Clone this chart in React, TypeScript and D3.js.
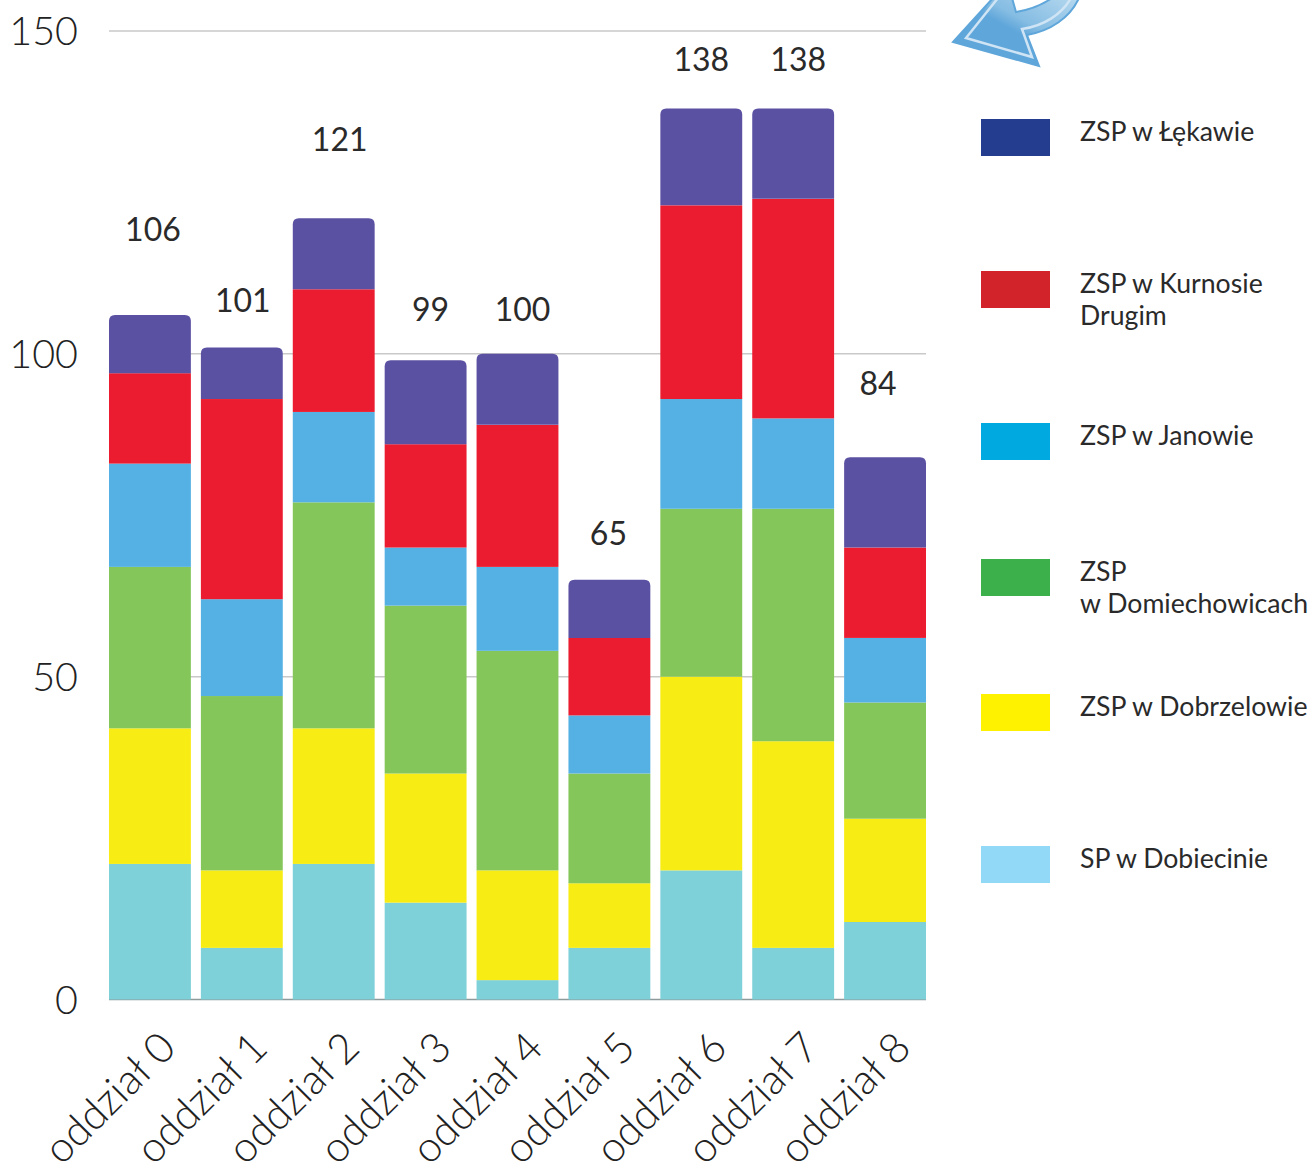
import React from 'react';
import * as d3 from 'd3';

const categories = ['oddział 0','oddział 1','oddział 2','oddział 3','oddział 4','oddział 5','oddział 6','oddział 7','oddział 8'];
const spDobiecinie = [21,8,21,15,3,8,20,8,12];
const zspDobrzelow = [21,12,21,20,17,10,30,32,16];
const zspDomiechowice = [25,27,35,26,34,17,26,36,18];
const zspJanow = [16,15,14,9,13,9,17,14,10];
const zspKurnos = [14,31,19,16,22,12,30,34,14];
const zspLekawa = [9,8,11,13,11,9,15,14,14];
const totals = [106,101,121,99,100,65,138,138,84];
const yTicks = [0,50,100,150];

const seriesNames = ['sp','dob','dom','jan','kur','lek'];
const seriesValues = [spDobiecinie,zspDobrzelow,zspDomiechowice,zspJanow,zspKurnos,zspLekawa];
const barColors = ['#7ed0d9','#f7ec13','#85c65a','#55b1e3','#ec1c30','#5b51a3'];

const legendItems = [
  {lines:['ZSP w Łękawie'],color:'#253d8f',y:119},
  {lines:['ZSP w Kurnosie','Drugim'],color:'#d2232a',y:271},
  {lines:['ZSP w Janowie'],color:'#00a9e0',y:423},
  {lines:['ZSP','w Domiechowicach'],color:'#3cb04b',y:559},
  {lines:['ZSP w Dobrzelowie'],color:'#fff200',y:694},
  {lines:['SP w Dobiecinie'],color:'#92d9f7',y:846},
];
// Manual label placement relative to the bar: [dx from bar centre, gap above bar top]
const labelOffsets = [[3,85],[1,46],[6,78],[5,50],[5,44],[-1,46],[0,48],[5,48],[-7,73]];

const LABEL_FONT = 'Lato, sans-serif';

export default function App() {
  const x = d3.scaleBand<string>().domain(categories).range([109,926]).paddingInner(0.109).paddingOuter(0);
  const y = d3.scaleLinear().domain([0,150]).range([999.5,31]);
  const rows = categories.map((c,i)=>{
    const r:any={cat:c};
    seriesNames.forEach((n,k)=>{r[n]=seriesValues[k][i];});
    return r;
  });
  const stacked = d3.stack<any>().keys(seriesNames)(rows);
  const bw = x.bandwidth();
  const radius = 6;
  return (
    <svg width={1311} height={1167} style={{position:'absolute',left:0,top:0,background:'#fff'}}>
      <defs>
        <linearGradient id="arrowFill" x1="0" y1="1" x2="1" y2="0">
          <stop offset="0" stopColor="#5fa6da"/>
          <stop offset="0.5" stopColor="#5fa6da"/>
          <stop offset="0.62" stopColor="#86bde3"/>
          <stop offset="1" stopColor="#b5d8ef"/>
        </linearGradient>
      </defs>
      {yTicks.map(t=>(
        <g key={t}>
          <line x1={109} x2={926} y1={y(t)} y2={y(t)} stroke={t===0?'#8f9a9a':'#c9c9c9'} strokeWidth={1.5}/>
          <text x={78} y={y(t)+14} textAnchor="end" fontFamily={LABEL_FONT} fontWeight={300} fontSize={39.5} fill="#222">{t}</text>
        </g>
      ))}
      {stacked.map((s,k)=>(
        <g key={s.key}>
          {s.map((d,i)=>{
            const xx=x(categories[i])!, y0=y(d[0]), y1=y(d[1]);
            if(k===stacked.length-1){
              const r=radius;
              return <path key={i} fill={barColors[k]} d={`M${xx},${y0}V${y1+r}Q${xx},${y1} ${xx+r},${y1}H${xx+bw-r}Q${xx+bw},${y1} ${xx+bw},${y1+r}V${y0}Z`}/>;
            }
            return <rect key={i} x={xx} y={y1} width={bw} height={y0-y1} fill={barColors[k]}/>;
          })}
        </g>
      ))}
      {totals.map((t,i)=>{
        const cx=x(categories[i])!+bw/2+labelOffsets[i][0];
        const top=y(t)-labelOffsets[i][1];
        return <text key={i} x={cx} y={top+11} textAnchor="middle" fontFamily={LABEL_FONT} fontSize={32} fill="#2a2a2a">{t}</text>;
      })}
      {categories.map((c,i)=>{
        const cx=x(c)!+bw/2;
        return <text key={c} transform={`translate(${cx+28},${1050}) rotate(-45)`} textAnchor="end" fontFamily={LABEL_FONT} fontWeight={300} fontSize={42} fill="#222">{c}</text>;
      })}
      {legendItems.map(l=>(
        <g key={l.y}>
          <rect x={981} y={l.y} width={69} height={37} fill={l.color}/>
          {l.lines.map((t,i)=>(
            <text key={i} x={1080} y={l.y+22+i*32} fontFamily={LABEL_FONT} fontSize={26.65} fill="#2a2a2a">{t}</text>
          ))}
        </g>
      ))}
      <path d="M993,-2 L953,42 L1039,66 L1027,35 C1050,31 1070,18 1079,-2 L1052,-2 C1042,5 1028,10 1016,12 L1012,-2 Z" fill="url(#arrowFill)" stroke="#5fa6da" strokeWidth={2}/>
      <path d="M998,-2 L966,38 L1032,57 L1022,29 C1044,26 1062,14 1071,-2" fill="none" stroke="#cfe4f4" strokeWidth={2.5}/>
    </svg>
  );
}
